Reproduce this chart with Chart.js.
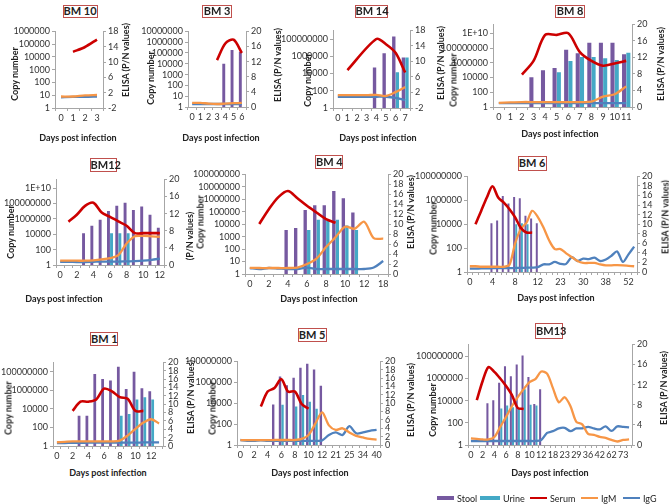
<!DOCTYPE html>
<html>
<head>
<meta charset="utf-8">
<script src="https://cdn.jsdelivr.net/npm/chart.js@4.4.0/dist/chart.umd.min.js"></script>
<style>
  body { margin: 0; background: #fff; }
  #fig { position: relative; width: 669px; height: 504px; overflow: hidden; font-family: Lato, 'Liberation Sans', sans-serif; color: #222; }
  #fig canvas { position: absolute; }
  .ttl { position: absolute; box-sizing: border-box; border: 1.5px solid #c0504d; background: #fff;
         font-weight: bold; font-size: 11px; text-align: center; white-space: nowrap; }
  .ax { position: absolute; font-weight: bold; font-size: 9px; white-space: nowrap; transform: translate(-50%, -50%) rotate(-90deg); }
  .xt { position: absolute; font-weight: bold; font-size: 9px; white-space: nowrap; transform: translate(-50%, -50%); }
  .lg { position: absolute; font-size: 9px; white-space: nowrap; transform: translateY(-50%); }
  .sw { position: absolute; }
</style>
</head>
<body>
<div id="fig"></div>
<script>
// ---- data ----
const bm10Days  = ['0', '1', '2', '3'];
const bm10Stool = [null, null, null, null];
const bm10Urine = [null, null, null, null];
const bm10Serum = [null, 2.5e4, 6e4, 2.3e5];
const bm10IgM   = [1.0, 1.0, 1.3, 1.4];
const bm10IgG   = [0.8, 0.9, 0.9, 1.0];

const bm3Days  = ['0', '1', '2', '3', '4', '5', '6'];
const bm3Stool = [null, null, null, null, 1e4, 1.9e5, 1.3e5];
const bm3Urine = [null, null, null, null, null, null, null];
const bm3Serum = [null, null, null, 2.2e4, 7.6e5, 1.7e6, 1e5];
const bm3IgM   = [1.1, 1.1, 0.9, 0.8, 0.9, 1.0, 1.1];
const bm3IgG   = [0.8, 0.8, 0.8, 0.8, 0.8, 0.8, 0.8];

const bm14Days  = ['0', '1', '2', '3', '4', '5', '6', '7'];
const bm14Stool = [null, null, null, null, 5e4, 2.2e6, 2e8, 7e5];
const bm14Urine = [null, null, null, null, null, null, 1.4e4, 7e5];
const bm14Serum = [null, 2.5e4, null, null, 1e8, 2.5e7, 2.5e6, 1.3e4];
const bm14IgM   = [1.3, 1.3, 1.3, 1.3, 1.4, 1.1, 2.1, 3.4];
const bm14IgG   = [0.9, 0.9, 0.9, 0.9, 0.9, 0.9, 0.6, 0.0];

const bm8Days  = ['0', '1', '2', '3', '4', '5', '6', '7', '8', '9', '10', '11'];
const bm8Stool = [null, null, null, 1.1e4, 1e5, 2e5, 6e7, 2e7, 5e8, 5e8, 5e8, 1.4e7];
const bm8Urine = [null, null, null, null, null, 5e4, 1.8e6, 6e6, 6e6, 4e6, 2.3e6, 2.3e7];
const bm8Serum = [null, null, 2.5e4, 1.8e6, 6e9, 6e9, 1e10, 2.8e7, 1.8e6, 4e5, 8e5, 1.8e6];
const bm8IgM   = [1.0, 1.1, 1.2, 1.2, 1.2, 1.2, 1.2, 1.2, 1.3, 2.5, 3.1, 5.0];
const bm8IgG   = [0.95, 0.95, 0.95, 0.95, 0.95, 0.95, 0.95, 0.95, 0.95, 0.95, 0.95, 0.95];

const bm12Days  = ['0', '1', '2', '3', '4', '5', '6', '7', '8', '9', '10', '11', '12'];
const bm12Stool = [null, null, null, 1.4e4, 1.3e5, 8e5, 1.1e7, 5e7, 1.3e8, 1.5e7, 4e7, 3.5e6, 7e4];
const bm12Urine = [null, null, null, null, null, null, 1.4e4, 1.4e4, 1.4e4, null, null, null, null];
const bm12Serum = [null, 4.4e5, 3.5e6, 5e7, 1.3e8, 6.8e6, 1.9e6, 4.8e5, 1.3e5, 1.4e4, 1.4e4, 1.4e4, 1.4e4];
const bm12IgM   = [1.0, 1.0, 1.0, 1.0, 1.1, 1.3, 1.6, 2.3, 5.0, 6.7, 6.8, 6.7, 6.6];
const bm12IgG   = [0.75, 0.75, 0.7, 0.7, 0.75, 0.8, 0.8, 0.8, 0.85, 0.9, 1.0, 1.2, 1.5];

const bm4Days  = ['0', '1', '2', '3', '4', '5', '6', '7', '8', '9', '10', '11', '12', '15', '18'];
const bm4Stool = [null, null, null, null, 3.5e3, 5e3, 1.4e5, 3.4e5, 3.4e5, 4.7e6, 1.2e6, 8.7e4, null, null, null];
const bm4Urine = [null, null, null, null, null, null, 3.5e3, 2.3e4, 2e4, 2.3e4, 7.7e3, 3.5e3, null, null, null];
const bm4Serum = [null, 1.05e4, 1.6e5, 1.5e6, 4.6e6, 1.2e6, 3e5, 8.7e4, 2.6e4, 1.3e4, null, null, null, null, null];
const bm4IgM   = [1.25, 1.2, 1.2, 1.2, 1.2, 1.3, 2.0, 3.1, 5.4, 7.4, 9.5, 9.1, 10.5, 7.2, 7.1];
const bm4IgG   = [1.2, 1.0, 1.2, 1.1, 1.0, 1.0, 1.3, 1.0, 1.0, 1.0, 1.0, 1.0, 1.0, 1.3, 2.6];

const bm6Days  = ['0', '1', '2', '3', '4', '5', '6', '7', '8', '9', '10', '11', '12', '14', '16', '19', '23', '25',
                  '27', '28', '30', '32', '34', '36', '38', '41', '45', '48', '52', '55'];
const bm6Stool = [null, null, null, null, 1.2e4, 2e4, 2.3e6, 5.3e5, 1.9e6, 1.5e6, 5e4, 3e4, 1.2e4,
                  null, null, null, null, null, null, null, null, null, null, null, null, null, null, null, null, null];
const bm6Urine = [null, null, null, null, null, null, null, null, 1e4, 1.2e4, 1e4,
                  null, null, null, null, null, null, null, null, null, null, null, null, null, null, null, null, null, null, null];
const bm6Serum = [null, 1e4, 1.3e5, 1.7e6, 1.5e7, 1.7e6, 6.4e5, 1.8e5, 3.7e4, 4.9e3, 2e3, 2e3,
                  null, null, null, null, null, null, null, null, null, null, null, null, null, null, null, null, null, null];
const bm6IgM   = [1.2, 1.2, 1.1, 1.1, 1.1, 1.1, 1.1, 1.5, 6.0, 9.0, 10.3, 12.8, 11.5, 9.3, 6.6, 4.8, 4.8, 3.9, 3.1, 2.3,
                  1.9, 1.9, 1.9, 1.6, 1.4, 1.4, 1.45, 1.4, 1.3, 1.2];
const bm6IgG   = [0.7, 0.7, 0.75, 0.75, 0.8, 0.8, 0.8, 0.8, 0.85, 0.85, 0.9, 0.9, 1.0, 1.6, 1.6, 2.1, 1.7, 1.7, 3.1, 2.3,
                  2.8, 2.7, 3.0, 2.3, 2.6, 3.4, 4.3, 2.1, 3.7, 5.3];

const bm1Days  = ['0', '1', '2', '3', '4', '5', '6', '7', '8', '9', '10', '11', '12', '13'];
const bm1Stool = [null, null, null, 1.8e3, 1.8e3, 5.8e7, 1.6e7, 1.1e7, 3.3e8, 1.4e6, 1e8, 1.7e6, 7.8e5, null];
const bm1Urine = [null, null, null, null, null, null, null, null, 1.8e3, 2.8e3, 1e5, 1.8e5, 1e5, null];
const bm1Serum = [null, null, 6e3, 5.9e4, 5.9e4, 1e5, 1.5e6, 7.8e5, 1.8e5, 1.2e5, 6e3, 6e3, null, null];
const bm1IgM   = [0.9, 1.0, 1.1, 1.1, 1.1, 1.1, 1.1, 1.1, 1.3, 2.5, 4.1, 5.6, 6.4, 5.4];
const bm1IgG   = [0.7, 0.7, 0.75, 0.75, 0.8, 0.8, 0.8, 0.8, 0.8, 0.8, 0.8, 0.85, 0.85, 0.85];

const bm5Days  = ['0', '1', '2', '3', '4', '5', '6', '7', '8', '9', '10', '11', '12', '17', '21', '23', '25', '30', '34', '37', '40'];
const bm5Stool = [null, null, null, null, null, 7.4e3, 3.5e6, 5.3e5, 2.8e6, 2.5e7, 5.9e7, 1.7e7, 4.6e5,
                  null, null, null, null, null, null, null, null];
const bm5Urine = [null, null, null, null, null, null, 7e3, null, 4.8e3, 6e4, 1.4e4, 2.9e3,
                  null, null, null, null, null, null, null, null, null];
const bm5Serum = [null, null, null, 4.8e3, 1.3e5, 2.8e5, 2e6, 1.3e5, 1.3e5, 8.5e3, 2.9e3,
                  null, null, null, null, null, null, null, null, null, null];
const bm5IgM   = [1.15, 1.15, 1.15, 1.15, 1.15, 1.2, 1.2, 1.2, 1.2, 1.45, 2.4, 5.1, 7.8, 4.7, 3.6, 4.0, 3.0, 2.2, 1.8, 1.45, 1.3];
const bm5IgG   = [1.2, 1.0, 1.0, 1.1, 1.0, 1.0, 1.0, 1.0, 1.0, 1.0, 1.0, 1.0, 1.1, 2.4, 3.0, 2.4, 4.5, 2.8, 3.0, 3.4, 3.6];

const bm13Days  = ['0', '1', '2', '3', '4', '5', '6', '7', '8', '9', '10', '11', '12', '15', '18', '20', '23', '26',
                   '29', '32', '36', '39', '42', '50', '62', '68', '73', '80'];
const bm13Stool = [null, null, null, 5.8e3, 1.1e4, 4.2e5, 1.3e7, 1.6e6, 1.8e7, 1.2e8, 1.4e6, 5e3, 1.1e5,
                   null, null, null, null, null, null, null, null, null, null, null, null, null, null, null];
const bm13Urine = [null, null, null, null, null, 2e3, 3.6e3, 2.5e3, 2e3, 1.1e5, 4.4e3, 3.6e3,
                   null, null, null, null, null, null, null, null, null, null, null, null, null, null, null, null];
const bm13Serum = [null, 1.1e4, 6e5, 1.1e7, 4e6, 1e6, 2.1e5, 3.2e4, 2.2e3, 1.8e3,
                   null, null, null, null, null, null, null, null, null, null, null, null, null, null, null, null, null, null];
const bm13IgM   = [1.3, 1.2, 1.1, 1.1, 1.6, 3.6, 5.6, 7.7, 9.5, 11.1, 12.5, 13.1, 14.6, 14.2, 11.3, 8.5, 9.5, 7.7, 4.6, 4.1,
                   2.2, 2.0, 1.6, 1.4, 1.0, 0.7, 1.0, 1.1];
const bm13IgG   = [0.8, 0.8, 0.8, 0.8, 0.8, 0.8, 0.8, 0.8, 0.8, 0.8, 0.8, 0.8, 1.0, 2.4, 2.75, 3.3, 3.4, 2.75, 3.3, 3.3,
                   3.6, 3.3, 3.1, 3.7, 2.8, 3.7, 3.6, 3.5];

// tick values of the copy number axes
const ticksDecade6  = [1, 10, 100, 1e3, 1e4, 1e5, 1e6];
const ticksDecade7  = [1, 10, 100, 1e3, 1e4, 1e5, 1e6, 1e7];
const ticksDecade8  = [1, 10, 100, 1e3, 1e4, 1e5, 1e6, 1e7, 1e8];
const ticksHundred8  = [1, 100, 1e4, 1e6, 1e8];
const ticksHundred10 = [1, 100, 1e4, 1e6, 1e8, 1e10];

// colours
const STOOL = '#7659a0';
const URINE = '#44a9c6';
const SERUM = '#cc0000';
const IGM   = '#f79646';
const IGG   = '#4f81bd';
const AXIS  = '#a6a6a6';
const TICK  = '#333333';

// ---- panels: data + where they sit on the page ----
const panels = [
  { title: 'BM 10', days: bm10Days, stool: bm10Stool, urine: bm10Urine, serum: bm10Serum, igm: bm10IgM, igg: bm10IgG,
    plot: [55, 30, 103, 108], logMax: 1e6, logTicks: ticksDecade6, r: [-2, 18, 4], every: 1,
    box: [80, 11, 35, 13], lt: [14, 74], rt: [125, 60], bt: [78, 137] },
  { title: 'BM 3', days: bm3Days, stool: bm3Stool, urine: bm3Urine, serum: bm3Serum, igm: bm3IgM, igg: bm3IgG,
    plot: [188, 30, 246, 107], logMax: 1e7, logTicks: ticksDecade7, r: [0, 20, 4], every: 1,
    box: [217, 11.5, 30, 13], lt: [150, 78], rt: [277, 65], bt: [221, 137] },
  { title: 'BM 14', days: bm14Days, stool: bm14Stool, urine: bm14Urine, serum: bm14Serum, igm: bm14IgM, igg: bm14IgG,
    plot: [333, 29, 410, 108], logMax: 1e9, logTicks: ticksHundred8, r: [-2, 18, 4], every: 1,
    box: [371, 11.5, 33, 13], lt: [307, 80], rt: [440, 63], bt: [378, 137] },
  { title: 'BM 8', days: bm8Days, stool: bm8Stool, urine: bm8Urine, serum: bm8Serum, igm: bm8IgM, igg: bm8IgG,
    plot: [493, 23, 632, 107], logMax: 1.6e11, logTicks: ticksHundred10, r: [0, 20, 4], every: 1,
    box: [570, 11.5, 30, 13], lt: [453, 80], rt: [660, 64], bt: [560, 133] },
  { title: 'BM12', days: bm12Days, stool: bm12Stool, urine: bm12Urine, serum: bm12Serum, igm: bm12IgM, igg: bm12IgG,
    plot: [56, 178, 164, 265], logMax: 1.4e11, logTicks: ticksHundred10, r: [0, 20, 4], every: 2,
    box: [103, 165, 27, 14], lt: [10, 232], rt: [189, 236], rtText: '(P/N values)', bt: [64, 298] },
  { title: 'BM 4', days: bm4Days, stool: bm4Stool, urine: bm4Urine, serum: bm4Serum, igm: bm4IgM, igg: bm4IgG,
    plot: [245, 173, 388, 274], logMax: 1e8, logTicks: ticksDecade8, r: [0, 20, 2], every: 2,
    box: [329, 162, 28, 14], lt: [200, 222], rt: [410, 212], bt: [319, 298] },
  { title: 'BM 6', days: bm6Days, stool: bm6Stool, urine: bm6Urine, serum: bm6Serum, igm: bm6IgM, igg: bm6IgG,
    plot: [467, 175, 637, 272], logMax: 1e8, logTicks: ticksHundred8, r: [0, 20, 2], every: 4,
    box: [532, 163, 29, 15], lt: [433, 228], rt: [665, 217], bt: [556, 297] },
  { title: 'BM 1', days: bm1Days, stool: bm1Stool, urine: bm1Urine, serum: bm1Serum, igm: bm1IgM, igg: bm1IgG,
    plot: [53, 361, 163, 446], logMax: 1e9, logTicks: ticksHundred8, r: [0, 20, 2], every: 2,
    box: [104, 339, 28, 14], lt: [8, 408], rt: [190, 397], bt: [108, 472] },
  { title: 'BM 5', days: bm5Days, stool: bm5Stool, urine: bm5Urine, serum: bm5Serum, igm: bm5IgM, igg: bm5IgG,
    plot: [237, 360, 380, 445], logMax: 1e8, logTicks: ticksHundred8, r: [0, 20, 2], every: 2,
    box: [312, 335, 29, 14], lt: [212, 408], rt: [410, 400], bt: [310, 472] },
  { title: 'BM13', days: bm13Days, stool: bm13Stool, urine: bm13Urine, serum: bm13Serum, igm: bm13IgM, igg: bm13IgG,
    plot: [468, 343, 632, 445], logMax: 1.2e9, logTicks: ticksHundred8, r: [0, 20, 4], every: 2,
    box: [549, 331, 28, 16], lt: [432, 410], rt: [663, 388], bt: [550, 472] }
];

const fig = document.getElementById('fig');
const tickFont = { family: "Lato, 'Liberation Sans', sans-serif", size: 9 };

function addText(cls, text, x, y) {
  const d = document.createElement('div');
  d.className = cls;
  d.textContent = text;
  d.style.left = x + 'px';
  d.style.top = y + 'px';
  fig.appendChild(d);
  return d;
}

function copyLabel(v) {
  if (v >= 1e10) return '1E+' + Math.round(Math.log10(v));
  return String(Math.round(v));
}

function makePanel(p) {
  const LW = 56, RW = 24, TP = 6, BH = 20;
  const [l, t, r, b] = p.plot;
  const w = r - l + LW + RW, h = b - t + TP + BH;
  const cv = document.createElement('canvas');
  cv.width = w; cv.height = h;
  cv.style.left = (l - LW) + 'px';
  cv.style.top = (t - TP) + 'px';
  cv.style.width = w + 'px';
  cv.style.height = h + 'px';
  fig.appendChild(cv);

  const axisGrid = { display: true, drawOnChartArea: false, drawTicks: true, tickLength: 3, color: AXIS };
  const line = (label, data, color, axis, width) => ({
    type: 'line', label: label, data: data, yAxisID: axis, order: 0,
    borderColor: color, backgroundColor: color, borderWidth: width,
    pointRadius: 0, tension: 0.3, spanGaps: true, fill: false
  });

  new Chart(cv.getContext('2d'), {
    type: 'bar',
    data: {
      labels: p.days,
      datasets: [
        { label: 'Stool', data: p.stool, backgroundColor: STOOL, yAxisID: 'y', order: 1 },
        { label: 'Urine', data: p.urine, backgroundColor: URINE, yAxisID: 'y', order: 1 },
        line('Serum', p.serum, SERUM, 'y', 2.6),
        line('IgM', p.igm, IGM, 'y1', 2.3),
        line('IgG', p.igg, IGG, 'y1', 2.3)
      ]
    },
    options: {
      responsive: false,
      animation: false,
      devicePixelRatio: 1,
      layout: { padding: { top: TP, left: 0, right: 0, bottom: 0 } },
      plugins: { legend: { display: false }, tooltip: { enabled: false } },
      datasets: { bar: { categoryPercentage: 0.74, barPercentage: 0.95 } },
      scales: {
        x: {
          offset: true,
          grid: Object.assign({ offset: true }, axisGrid),
          border: { display: true, color: AXIS },
          ticks: {
            autoSkip: false, maxRotation: 0, minRotation: 0, padding: 2, font: tickFont, color: TICK,
            callback: function (v, i) { return i % p.every === 0 ? this.getLabelForValue(v) : ''; }
          },
          afterFit: s => { s.height = BH; }
        },
        y: {
          type: 'logarithmic', position: 'left', min: 1, max: p.logMax,
          grid: axisGrid,
          border: { display: true, color: AXIS },
          afterBuildTicks: s => { s.ticks = p.logTicks.map(v => ({ value: v })); },
          ticks: { autoSkip: false, padding: 2, font: tickFont, color: TICK, callback: v => copyLabel(v) },
          afterFit: s => { s.width = LW; }
        },
        y1: {
          type: 'linear', position: 'right', min: p.r[0], max: p.r[1],
          grid: axisGrid,
          border: { display: true, color: AXIS },
          ticks: { autoSkip: false, stepSize: p.r[2], padding: 2, font: tickFont, color: TICK },
          afterFit: s => { s.width = RW; }
        }
      }
    }
  });

  // panel title and axis titles
  const [cx, cy, bw, bh] = p.box;
  const box = addText('ttl', p.title, cx - bw / 2, cy - bh / 2);
  box.style.width = bw + 'px';
  box.style.height = bh + 'px';
  box.style.lineHeight = (bh - 3) + 'px';
  addText('ax', 'Copy number', p.lt[0], p.lt[1]);
  addText('ax', p.rtText || 'ELISA (P/N values)', p.rt[0], p.rt[1]);
  addText('xt', 'Days post infection', p.bt[0], p.bt[1]);
}

panels.forEach(makePanel);

// ---- legend ----
const legendItems = [
  { name: 'Stool', color: STOOL, bar: true,  x: 437, w: 17 },
  { name: 'Urine', color: URINE, bar: true,  x: 480, w: 20 },
  { name: 'Serum', color: SERUM, bar: false, x: 530, w: 17 },
  { name: 'IgM',   color: IGM,   bar: false, x: 581, w: 17 },
  { name: 'IgG',   color: IGG,   bar: false, x: 623, w: 17 }
];
const legendY = 497.5;
legendItems.forEach(it => {
  const sw = document.createElement('div');
  sw.className = 'sw';
  const hh = it.bar ? 4 : 2;
  sw.style.left = it.x + 'px';
  sw.style.top = (legendY - hh / 2) + 'px';
  sw.style.width = it.w + 'px';
  sw.style.height = hh + 'px';
  sw.style.background = it.color;
  fig.appendChild(sw);
  addText('lg', it.name, it.x + it.w + 3, legendY);
});
</script>
</body>
</html>
